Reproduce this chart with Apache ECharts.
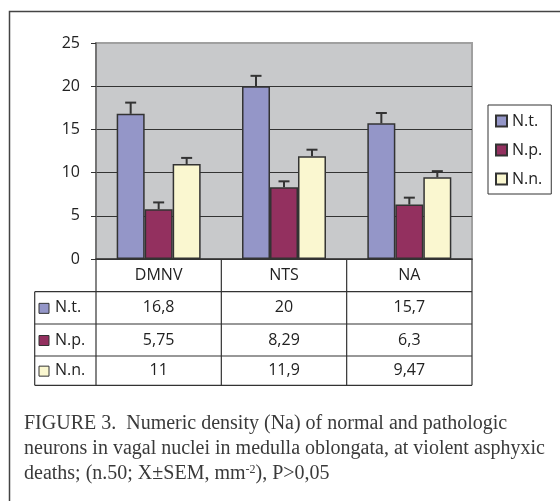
<!DOCTYPE html>
<html>
<head>
<meta charset="utf-8">
<script src="https://cdn.jsdelivr.net/npm/echarts@6/dist/echarts.min.js"></script>
<style>
  html, body { margin: 0; padding: 0; background: #fff; }
  #chart { width: 560px; height: 501px; }
</style>
</head>
<body>
<div id="chart"></div>
<script>
// data
const categories = ['DMNV', 'NTS', 'NA']
const seriesNames = ['N.t.', 'N.p.', 'N.n.']
const ntValues = [16.8, 20, 15.7]
const npValues = [5.75, 8.29, 6.3]
const nnValues = [11, 11.9, 9.47]
// upper error bars (SEM), estimated from the caps
const ntSem = [1.3, 1.2, 1.2]
const npSem = [0.8, 0.7, 0.8]
const nnSem = [0.7, 0.75, 0.7]
const yTicks = { min: 0, max: 25, interval: 5 }

const colors = ['#9496c8', '#93305f', '#faf7d0']
const values = [ntValues, npValues, nnValues]
const sems = [ntSem, npSem, nnSem]
const sansFont = 'Open Sans'
const serifFont = 'Liberation Serif'
const fontSize = 16
const catGap = 0.33

const chart = echarts.init(document.getElementById('chart'))

const errorRender = (slot) => (params, api) => {
  const idx = api.value(0)
  const base = api.coord([idx, api.value(1)])
  const top = api.coord([idx, api.value(1) + api.value(2)])
  const catW = api.size([1, 0])[0]
  const barW = catW * (1 - catGap) / 3
  const x = base[0] + (slot - 1) * barW
  const half = 5.5
  const style = { stroke: '#333', lineWidth: 2 }
  return {
    type: 'group',
    children: [
      { type: 'line', shape: { x1: x, y1: base[1], x2: x, y2: top[1] }, style },
      { type: 'line', shape: { x1: x - half, y1: top[1], x2: x + half, y2: top[1] }, style }
    ]
  }
}

const barSeries = seriesNames.map((name, i) => ({
  name,
  type: 'bar',
  data: values[i],
  barGap: '0%',
  barCategoryGap: (catGap * 100) + '%',
  itemStyle: { color: colors[i], borderColor: '#333', borderWidth: 1.5 },
  z: 2
}))

const errSeries = seriesNames.map((name, i) => ({
  name: name + ' SEM',
  type: 'custom',
  renderItem: errorRender(i),
  data: categories.map((c, k) => [k, values[i][k], sems[i][k]]),
  z: 3,
  silent: true
}))

const option = {
  backgroundColor: '#fff',
  animation: false,
  grid: {
    left: 96, right: 88, top: 43, bottom: 242,
    show: true,
    backgroundColor: '#c8c9cb',
    borderColor: '#a0a0a0',
    borderWidth: 2
  },
  legend: {
    data: seriesNames,
    orient: 'vertical',
    left: 488,
    top: 105,
    padding: [8, 9, 7, 7],
    itemGap: 13,
    itemWidth: 11,
    itemHeight: 11,
    icon: 'rect',
    borderColor: '#333',
    borderWidth: 1,
    textStyle: { fontFamily: sansFont, fontSize, color: '#222' }
  },
  xAxis: {
    type: 'category',
    data: categories,
    axisLine: { lineStyle: { color: '#333', width: 1.5 } },
    axisTick: { show: false },
    axisLabel: { fontFamily: sansFont, fontSize, color: '#222', margin: 8 }
  },
  yAxis: {
    type: 'value',
    min: yTicks.min,
    max: yTicks.max,
    interval: yTicks.interval,
    axisLine: { show: true, lineStyle: { color: '#666', width: 1.5 } },
    axisTick: { show: true, length: 5, lineStyle: { color: '#333' } },
    splitLine: { lineStyle: { color: ['#333', '#333', '#333', '#333', '#333', '#a0a0a0'], width: 1 } },
    axisLabel: { fontFamily: sansFont, fontSize, color: '#222', margin: 16 }
  },
  series: [...barSeries, ...errSeries]
}

chart.setOption(option)

// data table under the plot, laid out from the axis positions
const yBase = chart.convertToPixel({ yAxisIndex: 0 }, 0)
const centers = categories.map((c, k) => chart.convertToPixel({ xAxisIndex: 0 }, k))
const catW = centers[1] - centers[0]
const edges = [centers[0] - catW / 2, ...centers.map(c => c + catW / 2)]
const rowLines = [291.7, 324, 356, 385.3]
const tableLeft = 34.7
const lineStyle = { stroke: '#333', lineWidth: 1.2 }
const fmt = v => String(v).replace('.', ',')

const graphics = []
edges.forEach(x => {
  graphics.push({ type: 'line', shape: { x1: x, y1: yBase, x2: x, y2: rowLines[3] }, style: lineStyle })
})
graphics.push({ type: 'line', shape: { x1: tableLeft, y1: rowLines[0], x2: tableLeft, y2: rowLines[3] }, style: lineStyle })
rowLines.forEach(y => {
  graphics.push({ type: 'line', shape: { x1: tableLeft, y1: y, x2: edges[3], y2: y }, style: lineStyle })
})
seriesNames.forEach((name, i) => {
  const cy = (rowLines[i] + rowLines[i + 1]) / 2
  graphics.push({
    type: 'rect',
    shape: { x: 39, y: cy - 4.5, width: 10, height: 10 },
    style: { fill: colors[i], stroke: '#333', lineWidth: 1 }
  })
  graphics.push({
    type: 'text', x: 55, y: cy,
    style: { text: name, fontFamily: sansFont, fontSize, fill: '#222', verticalAlign: 'middle' }
  })
  centers.forEach((cx, k) => {
    graphics.push({
      type: 'text', x: cx, y: cy,
      style: { text: fmt(values[i][k]), fontFamily: sansFont, fontSize, fill: '#222', align: 'center', verticalAlign: 'middle' }
    })
  })
})

// caption
const captionLines = [
  'FIGURE 3.  Numeric density (Na) of normal and pathologic',
  'neurons in vagal nuclei in medulla oblongata, at violent asphyxic',
  'deaths; (n.50; X±SEM, mm{sup|-2}), P>0,05'
]
const captionY = [424, 449, 474]
captionLines.forEach((t, i) => {
  graphics.push({
    type: 'text', x: 24, y: captionY[i],
    style: {
      text: t, fontFamily: serifFont, fontSize: 20, fill: '#3a3a3a', verticalAlign: 'middle',
      rich: { sup: { fontFamily: serifFont, fontSize: 12, fill: '#3a3a3a', verticalAlign: 'top', padding: [0, 0, 7, 0] } }
    }
  })
})

// outer frame of the figure
graphics.push({
  type: 'rect',
  shape: { x: 9.5, y: 11.5, width: 600, height: 600 },
  style: { fill: 'none', stroke: '#444', lineWidth: 1.5 }
})

chart.setOption({ graphic: graphics })
</script>
</body>
</html>
